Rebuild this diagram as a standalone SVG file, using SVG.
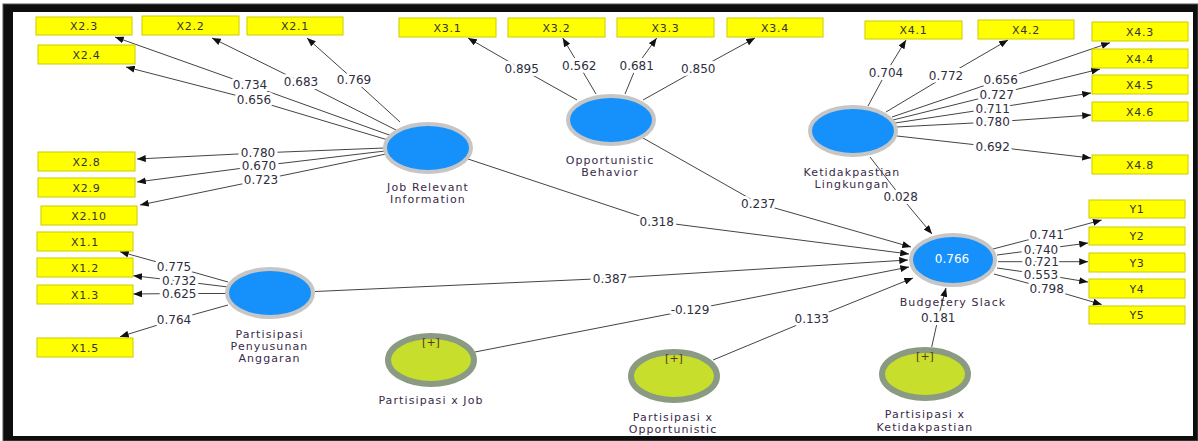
<svg xmlns="http://www.w3.org/2000/svg" width="1198" height="441" viewBox="0 0 1198 441">
<style>
.box{fill:#ffff00;stroke:#cccc00;stroke-width:1}
.bt{font-family:"DejaVu Sans",sans-serif;font-size:11px;letter-spacing:0.7px;fill:#333;text-anchor:middle}
.lv{fill:#1691fb;stroke:#c6c6c6;stroke-width:4}
.mod{fill:#c8de2c;stroke:#8b9a82;stroke-width:6}
.nm{font-family:"DejaVu Sans",sans-serif;font-size:11px;letter-spacing:1.1px;fill:#3a2a48;text-anchor:middle}
.pl{font-family:"DejaVu Sans",sans-serif;font-size:11px;fill:#5a3a10;text-anchor:middle}
.c{fill:none;stroke:#444;stroke-width:1;marker-end:url(#ah)}
.lb{font-family:"DejaVu Sans",sans-serif;font-size:12px;fill:#2e2e3e;text-anchor:middle;stroke:#fff;stroke-width:6;paint-order:stroke;stroke-linejoin:round}
</style>
<defs>
<marker id="ah" viewBox="0 0 10 8" refX="10" refY="4" markerWidth="9" markerHeight="7" orient="auto" markerUnits="userSpaceOnUse">
<path d="M0,0 L10,4 L0,8 z" fill="#111"/>
</marker>
</defs>
<rect x="0" y="0" width="1198" height="441" fill="#fff"/>
<rect x="3" y="4" width="1195" height="437" fill="#0e0e0e" stroke="#555" stroke-width="1"/>
<rect x="13" y="12" width="1180" height="424" fill="#fff"/>

<g id="connectors">
<polyline class="c" points="400,122 354,80 307,38"/>
<polyline class="c" points="396,130 301,82 212,38"/>
<polyline class="c" points="392,136 250,85 115,37"/>
<polyline class="c" points="388,140 254,100 126,67"/>
<polyline class="c" points="384,148 258,153 137,159"/>
<polyline class="c" points="385,151 259,166 137,182"/>
<polyline class="c" points="386,154 261,180 140,205"/>
<polyline class="c" points="577,100 521.7,69 468,38"/>
<polyline class="c" points="596,94 579.3,65.7 562.7,38"/>
<polyline class="c" points="625,94 636.7,65.7 656.7,38"/>
<polyline class="c" points="643,100 698.3,69 755,38"/>
<polyline class="c" points="868,106 886,72.7 906,40"/>
<polyline class="c" points="886,112 946,76 1008,40"/>
<polyline class="c" points="892,117 1000.7,80 1110,42.7"/>
<polyline class="c" points="893,120 996.7,94.3 1100,69"/>
<polyline class="c" points="895,123 992.7,108.3 1091,93"/>
<polyline class="c" points="896,127 992.7,122 1091,115"/>
<polyline class="c" points="897,136 992.7,146.7 1091,158"/>
<polyline class="c" points="228,282 174,266.7 120,251.7"/>
<polyline class="c" points="228,287 179.3,281 133.3,275.7"/>
<polyline class="c" points="226,293.5 179.3,293.5 133.3,294"/>
<polyline class="c" points="228,305 174,320 120,336.7"/>
<polyline class="c" points="993,249 1046.7,235 1101.7,220"/>
<polyline class="c" points="997,255 1041,249.3 1088,243"/>
<polyline class="c" points="998,261.7 1041.7,261.7 1088,261.7"/>
<polyline class="c" points="997,268 1041,274.3 1088,282"/>
<polyline class="c" points="994,274 1046.7,288.3 1101.7,304.5"/>
<polyline class="c" points="468,159 656.7,221.7 909,254"/>
<polyline class="c" points="643,138 758.3,203.3 911,247"/>
<polyline class="c" points="870,157 900.7,196.5 932,234"/>
<polyline class="c" points="315,291.5 610,278.3 908,260"/>
<polyline class="c" points="475,352 690,310 909,267"/>
<polyline class="c" points="713,360 811.7,319 913,278"/>
<polyline class="c" points="931.7,347 938.3,317.3 946,288"/>

<text class="lb" x="354" y="84.4">0.769</text>
<text class="lb" x="301" y="86.4">0.683</text>
<text class="lb" x="250" y="89.4">0.734</text>
<text class="lb" x="254" y="104.4">0.656</text>
<text class="lb" x="258" y="157.4">0.780</text>
<text class="lb" x="259" y="170.4">0.670</text>
<text class="lb" x="261" y="184.4">0.723</text>
<text class="lb" x="521.7" y="73.4">0.895</text>
<text class="lb" x="579.3" y="70.1">0.562</text>
<text class="lb" x="636.7" y="70.1">0.681</text>
<text class="lb" x="698.3" y="73.4">0.850</text>
<text class="lb" x="886" y="77.1">0.704</text>
<text class="lb" x="946" y="80.4">0.772</text>
<text class="lb" x="1000.7" y="84.4">0.656</text>
<text class="lb" x="996.7" y="98.7">0.727</text>
<text class="lb" x="992.7" y="112.7">0.711</text>
<text class="lb" x="992.7" y="126.4">0.780</text>
<text class="lb" x="992.7" y="151.1">0.692</text>
<text class="lb" x="174" y="271.1">0.775</text>
<text class="lb" x="179.3" y="285.4">0.732</text>
<text class="lb" x="179.3" y="297.9">0.625</text>
<text class="lb" x="174" y="324.4">0.764</text>
<text class="lb" x="1046.7" y="239.4">0.741</text>
<text class="lb" x="1041" y="253.7">0.740</text>
<text class="lb" x="1041.7" y="266.1">0.721</text>
<text class="lb" x="1041" y="278.7">0.553</text>
<text class="lb" x="1046.7" y="292.7">0.798</text>
<text class="lb" x="656.7" y="226.1">0.318</text>
<text class="lb" x="758.3" y="207.7">0.237</text>
<text class="lb" x="900.7" y="200.9">0.028</text>
<text class="lb" x="610" y="282.7">0.387</text>
<text class="lb" x="690" y="314.4">-0.129</text>
<text class="lb" x="811.7" y="323.4">0.133</text>
<text class="lb" x="938.3" y="321.7">0.181</text>
</g>

<g id="X2.3"><rect class="box" x="36" y="17" width="96" height="18"/><text class="bt" x="84" y="30">X2.3</text></g>
<g id="X2.2"><rect class="box" x="142" y="16" width="97" height="19"/><text class="bt" x="190.5" y="29.5">X2.2</text></g>
<g id="X2.1"><rect class="box" x="247" y="17" width="96" height="18"/><text class="bt" x="295" y="30">X2.1</text></g>
<g id="X2.4"><rect class="box" x="38" y="45" width="97" height="19"/><text class="bt" x="86.5" y="58.5">X2.4</text></g>
<g id="X2.8"><rect class="box" x="38" y="152" width="97" height="19"/><text class="bt" x="86.5" y="165.5">X2.8</text></g>
<g id="X2.9"><rect class="box" x="38" y="178" width="97" height="19"/><text class="bt" x="86.5" y="191.5">X2.9</text></g>
<g id="X2.10"><rect class="box" x="41" y="206" width="96" height="19"/><text class="bt" x="89" y="219.5">X2.10</text></g>
<g id="X1.1"><rect class="box" x="37" y="232" width="96" height="19"/><text class="bt" x="85" y="245.5">X1.1</text></g>
<g id="X1.2"><rect class="box" x="37" y="258" width="96" height="19"/><text class="bt" x="85" y="271.5">X1.2</text></g>
<g id="X1.3"><rect class="box" x="37" y="285" width="96" height="19"/><text class="bt" x="85" y="298.5">X1.3</text></g>
<g id="X1.5"><rect class="box" x="37" y="338" width="96" height="19"/><text class="bt" x="85" y="351.5">X1.5</text></g>
<g id="X3.1"><rect class="box" x="399" y="18" width="97" height="19"/><text class="bt" x="447.5" y="31.5">X3.1</text></g>
<g id="X3.2"><rect class="box" x="508" y="18" width="97" height="19"/><text class="bt" x="556.5" y="31.5">X3.2</text></g>
<g id="X3.3"><rect class="box" x="617" y="18" width="97" height="19"/><text class="bt" x="665.5" y="31.5">X3.3</text></g>
<g id="X3.4"><rect class="box" x="727" y="18" width="96" height="19"/><text class="bt" x="775" y="31.5">X3.4</text></g>
<g id="X4.1"><rect class="box" x="865" y="21" width="97" height="18"/><text class="bt" x="913.5" y="34">X4.1</text></g>
<g id="X4.2"><rect class="box" x="978" y="20" width="96" height="19"/><text class="bt" x="1026" y="33.5">X4.2</text></g>
<g id="X4.3"><rect class="box" x="1092" y="22" width="96" height="19"/><text class="bt" x="1140" y="35.5">X4.3</text></g>
<g id="X4.4"><rect class="box" x="1092" y="49" width="96" height="19"/><text class="bt" x="1140" y="62.5">X4.4</text></g>
<g id="X4.5"><rect class="box" x="1092" y="75" width="96" height="19"/><text class="bt" x="1140" y="88.5">X4.5</text></g>
<g id="X4.6"><rect class="box" x="1092" y="102" width="96" height="19"/><text class="bt" x="1140" y="115.5">X4.6</text></g>
<g id="X4.8"><rect class="box" x="1092" y="155" width="96" height="19"/><text class="bt" x="1140" y="168.5">X4.8</text></g>
<g id="Y1"><rect class="box" x="1089" y="200" width="96" height="18"/><text class="bt" x="1137" y="213">Y1</text></g>
<g id="Y2"><rect class="box" x="1089" y="227" width="96" height="18"/><text class="bt" x="1137" y="240">Y2</text></g>
<g id="Y3"><rect class="box" x="1089" y="253" width="96" height="19"/><text class="bt" x="1137" y="266.5">Y3</text></g>
<g id="Y4"><rect class="box" x="1089" y="279" width="96" height="19"/><text class="bt" x="1137" y="292.5">Y4</text></g>
<g id="Y5"><rect class="box" x="1089" y="306" width="96" height="18"/><text class="bt" x="1137" y="319">Y5</text></g>

<g id="JobRelevantInformation"><ellipse class="lv" cx="428" cy="148" rx="43" ry="24"/><text class="nm" x="428" y="191">Job Relevant</text><text class="nm" x="428" y="203">Information</text></g>
<g id="OpportunisticBehavior"><ellipse class="lv" cx="611" cy="120" rx="43" ry="24"/><text class="nm" x="610" y="163.5">Opportunistic</text><text class="nm" x="610" y="175.7">Behavior</text></g>
<g id="KetidakpastianLingkungan"><ellipse class="lv" cx="853" cy="131" rx="43" ry="24"/><text class="nm" x="852" y="176.3">Ketidakpastian</text><text class="nm" x="852" y="188.3">Lingkungan</text></g>
<g id="PartisipasiPenyusunanAnggaran"><ellipse class="lv" cx="270" cy="293" rx="43" ry="24"/><text class="nm" x="269.5" y="338.3">Partisipasi</text><text class="nm" x="269.5" y="350">Penyusunan</text><text class="nm" x="269.5" y="361.5">Anggaran</text></g>
<g id="BudgeterySlack"><ellipse class="lv" cx="953" cy="260" rx="42" ry="25"/><text x="952" y="262.5" font-family="DejaVu Sans, sans-serif" font-size="12" fill="#fff" text-anchor="middle">0.766</text><text class="nm" x="953" y="306.3">Budgetery Slack</text></g>
<g id="PartisipasiXJob"><ellipse class="mod" cx="431" cy="360" rx="43" ry="24"/><text class="pl" x="431" y="346">[+]</text><text class="nm" x="431" y="404.3">Partisipasi x Job</text></g>
<g id="PartisipasiXOpportunistic"><ellipse class="mod" cx="674" cy="376" rx="43" ry="24"/><text class="pl" x="674" y="362">[+]</text><text class="nm" x="673" y="420.7">Partisipasi x</text><text class="nm" x="673" y="432.7">Opportunistic</text></g>
<g id="PartisipasiXKetidakpastian"><ellipse class="mod" cx="925" cy="374" rx="43" ry="24"/><text class="pl" x="925" y="360">[+]</text><text class="nm" x="925" y="418.3">Partisipasi x</text><text class="nm" x="925" y="430.7">Ketidakpastian</text></g>
</svg>
